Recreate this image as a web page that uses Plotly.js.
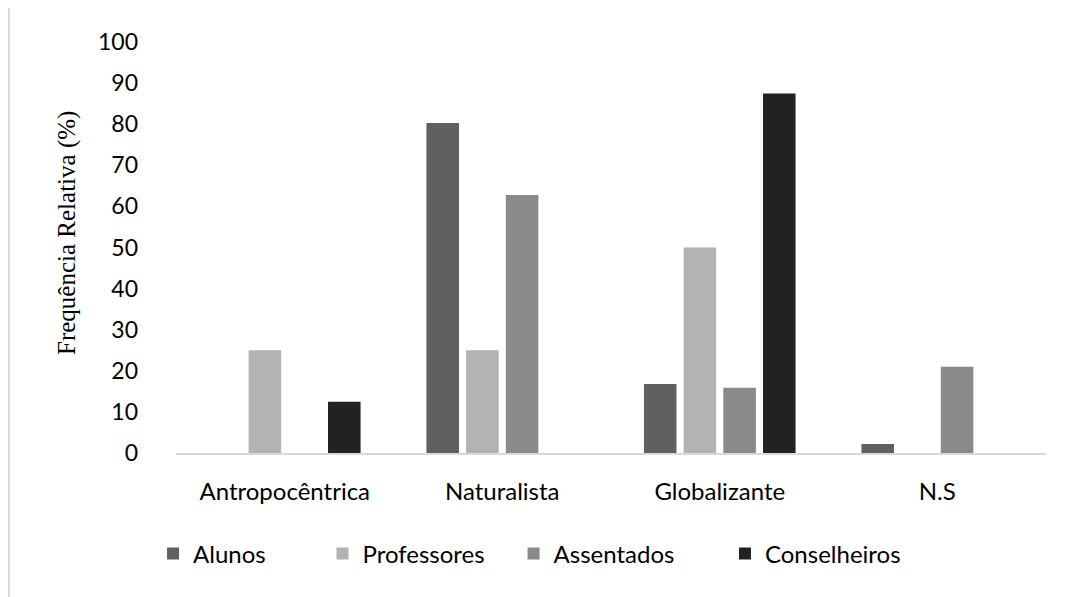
<!DOCTYPE html>
<html>
<head>
<meta charset="utf-8">
<script src="https://cdn.plot.ly/plotly-3.0.1.min.js"></script>
<style>html,body{margin:0;padding:0;background:#fff}#chart{width:1076px;height:597px}</style>
</head>
<body>
<div id="chart"></div>
<script>
var categories = ["Antropocêntrica", "Naturalista", "Globalizante", "N.S"];
var seriesNames = ["Alunos", "Professores", "Assentados", "Conselheiros"];
var alunos = [0, 80.3, 16.8, 2.2];
var professores = [25, 25, 50, 0];
var assentados = [0, 62.8, 15.9, 21];
var conselheiros = [12.5, 0, 87.5, 0];
var yTicks = [0, 10, 20, 30, 40, 50, 60, 70, 80, 90, 100];
var yTitle = "Frequência Relativa (%)";

var colors = ["#606060", "#b3b3b3", "#8a8a8a", "#222222"];
var values = [alunos, professores, assentados, conselheiros];
var legendIds = ["legend", "legend2", "legend3", "legend4"];
var legendX = [-0.0264, 0.1684, 0.388, 0.631];

var data = values.map(function (v, i) {
  return {
    type: "bar",
    name: seriesNames[i],
    x: categories,
    y: v,
    legend: legendIds[i],
    marker: { color: colors[i] },
    hoverinfo: "x+y+name"
  };
});

var font = "Lato, 'Open Sans', sans-serif";
var layout = {
  width: 1076,
  height: 597,
  margin: { l: 176, r: 30, t: 42, b: 144 },
  paper_bgcolor: "#ffffff",
  plot_bgcolor: "#ffffff",
  barmode: "group",
  bargap: 0.27,
  bargroupgap: 0.18,
  font: { family: font, size: 24, color: "#000000" },
  xaxis: {
    showgrid: false,
    showline: true,
    linecolor: "#d9d9d9",
    linewidth: 2,
    ticks: "",
    ticklabelstandoff: 16,
    tickfont: { family: font, size: 24, color: "#000" },
    zeroline: false
  },
  yaxis: {
    range: [0, 100],
    tickvals: yTicks,
    ticktext: yTicks.map(String),
    showgrid: false,
    showline: false,
    zeroline: false,
    ticks: "",
    ticklabelstandoff: 37,
    tickfont: { family: font, size: 23, color: "#000" }
  },
  showlegend: true,
  annotations: [{
    text: yTitle,
    xref: "paper", yref: "paper",
    x: -0.1253, y: 0.5353,
    xanchor: "center", yanchor: "middle",
    textangle: -90,
    showarrow: false,
    font: { family: "'Liberation Serif', 'Times New Roman', serif", size: 25, color: "#000" }
  }],
  shapes: [{
    type: "line",
    xref: "paper", yref: "paper",
    x0: -0.192, x1: -0.192, y0: 1.083, y1: -0.36,
    line: { color: "#d9d9d9", width: 2 }
  }]
};

legendIds.forEach(function (id, i) {
  layout[id] = {
    orientation: "h",
    x: legendX[i],
    xanchor: "left",
    y: -0.2457,
    yanchor: "middle",
    bgcolor: "rgba(0,0,0,0)",
    font: { family: font, size: 24, color: "#000" },
    itemwidth: 30
  };
});

Plotly.newPlot("chart", data, layout, { displayModeBar: false, staticPlot: true });
</script>
</body>
</html>
